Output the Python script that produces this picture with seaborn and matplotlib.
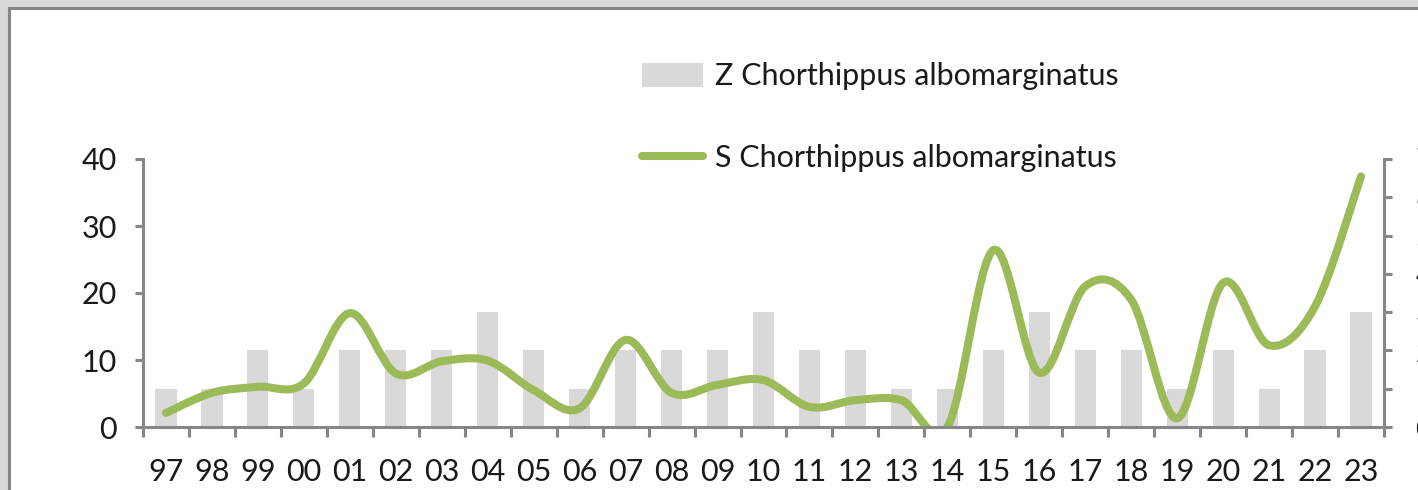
import numpy as np
import matplotlib
matplotlib.use('Agg')
import matplotlib.pyplot as plt
from matplotlib.path import Path
from matplotlib.patches import PathPatch, Rectangle, Patch
from matplotlib.lines import Line2D
import seaborn as sns

# Daten
years = ['97', '98', '99', '00', '01', '02', '03', '04', '05', '06', '07', '08', '09', '10',
         '11', '12', '13', '14', '15', '16', '17', '18', '19', '20', '21', '22', '23']
z_vals = [1, 1, 2, 1, 2, 2, 2, 3, 2, 1, 2, 2, 2, 3, 2, 2, 1, 1, 2, 3, 2, 2, 1, 2, 1, 2, 3]
s_vals = [2.1, 5.1, 6.0, 6.5, 17.0, 8.0, 9.8, 9.9, 5.5, 2.8, 13.0, 5.1, 6.3, 7.0,
          3.0, 4.0, 4.0, 0.0, 26.4, 8.1, 21.0, 19.0, 1.3, 21.5, 12.2, 18.0, 37.4]
left_ticks = [0, 10, 20, 30, 40]
right_ticks = [0, 1, 2, 3, 4, 5, 6, 7]

sns.set_style('white')
plt.rcParams['font.family'] = ['Lato', 'DejaVu Sans']

bar_color = '#d9d9d9'
line_color = '#9bbb59'
axis_color = '#868686'
text_color = '#1a1a1a'
fs = 22

fig = plt.figure(figsize=(14.18, 4.90), dpi=100, facecolor=bar_color)
W, H = 1418, 490
# Rahmen (Excel-Diagrammbereich)
fig.patches.append(Rectangle((8.5 / W, -0.1), 1.2, 1.1 - 8.5 / H, transform=fig.transFigure,
                             facecolor='white', edgecolor=axis_color, linewidth=2.2, zorder=-5))

ax = fig.add_axes([143 / W, 1 - 427 / H, (1384 - 143) / W, (427 - 159) / H])
ax2 = ax.twinx()

# Balken (Sekundärachse)
sns.barplot(x=years, y=z_vals, order=years, ax=ax2, color=bar_color, saturation=1,
            width=0.46, linewidth=0)
ax2.set_ylim(0, 7)
ax2.set_yticks(right_ticks)
ax2.set_ylabel('')

# geglättete Linie (Primärachse), Catmull-Rom als Bezier
x = np.arange(len(s_vals), dtype=float)
y = np.array(s_vals, dtype=float)
pts = np.column_stack([x, y])
verts = [pts[0]]
codes = [Path.MOVETO]
for i in range(len(pts) - 1):
    p0 = pts[i - 1] if i > 0 else pts[i]
    p1 = pts[i]
    p2 = pts[i + 1]
    p3 = pts[i + 2] if i + 2 < len(pts) else pts[i + 1]
    c1 = p1 + (p2 - p0) / 6
    c2 = p2 - (p3 - p1) / 6
    verts += [c1, c2, p2]
    codes += [Path.CURVE4] * 3
ax.add_patch(PathPatch(Path(verts, codes), facecolor='none', edgecolor=line_color,
                       linewidth=5.8, capstyle='round', joinstyle='round'))
ax.set_ylim(0, 40)
ax.set_yticks(left_ticks)
ax.set_xlim(-0.5, len(years) - 0.5)

ax.set_zorder(ax2.get_zorder() + 1)
ax.patch.set_visible(False)

# Achsen
for a in (ax, ax2):
    for s in a.spines.values():
        s.set_visible(False)
ax.spines['left'].set_visible(True)
ax.spines['bottom'].set_visible(True)
ax2.spines['right'].set_visible(True)
for s in (ax.spines['left'], ax.spines['bottom'], ax2.spines['right']):
    s.set_color(axis_color)
    s.set_linewidth(2.2)

ax.set_xticks(x)
ax.set_xticklabels(years)
ax.set_xticks(np.arange(len(years) + 1) - 0.5, minor=True)
ax.tick_params(axis='x', which='major', bottom=True, length=0, pad=22, labelsize=fs,
               labelcolor=text_color)
ax.tick_params(axis='x', which='minor', bottom=True, length=7, width=2.2, color=axis_color,
               direction='out')
ax.tick_params(axis='y', which='major', left=True, length=6, width=2.2, color=axis_color,
               pad=13, labelsize=fs, labelcolor=text_color, direction='out')
ax2.tick_params(axis='y', which='major', right=True, length=6, width=2.2, color=axis_color,
                pad=16.5, labelsize=fs, labelcolor=text_color, direction='out')
ax.set_xlabel('')
ax.set_ylabel('')

# Legende
handles = [Patch(facecolor=bar_color, edgecolor='none'),
           Line2D([], [], color=line_color, linewidth=5.8, solid_capstyle='round')]
labels = ['Z Chorthippus albomarginatus', 'S Chorthippus albomarginatus']
fig.legend(handles, labels, loc='upper left', bbox_to_anchor=(614 / W, 1 - 35 / H),
           frameon=False, fontsize=fs, handlelength=2.0, handleheight=0.8,
           handletextpad=0.4, labelspacing=1.75, labelcolor=text_color)

fig.savefig('out.png', dpi=100, facecolor=fig.get_facecolor())
